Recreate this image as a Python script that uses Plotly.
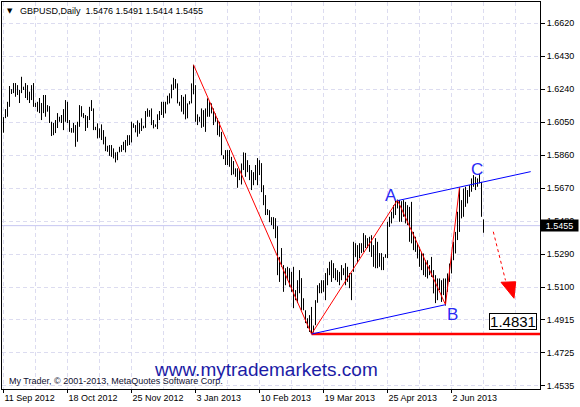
import plotly.graph_objects as go

# ---------------- data ----------------
highs = [
    1.6080, 1.6126, 1.6168, 1.6259, 1.6241, 1.6276, 1.6276, 1.6264, 1.6236, 1.6312,
    1.6255, 1.6276, 1.6264, 1.6226, 1.6264, 1.6276, 1.6162, 1.6168, 1.6190, 1.6161,
    1.6207, 1.6207, 1.6149, 1.6143, 1.6053, 1.6046, 1.6063, 1.6103, 1.6082, 1.6092,
    1.6126, 1.6178, 1.6168, 1.6063, 1.6017, 1.6046, 1.6034, 1.6053, 1.6149, 1.6143,
    1.6103, 1.6092, 1.6086, 1.6139, 1.6178, 1.6130, 1.6024, 1.6044, 1.6015, 1.6038,
    1.6005, 1.5967, 1.5915, 1.5919, 1.5919, 1.5900, 1.5877, 1.5880, 1.5909, 1.5919,
    1.5938, 1.5948, 1.5976, 1.5976, 1.6053, 1.6044, 1.6034, 1.6061, 1.6047, 1.6073,
    1.6030, 1.6115, 1.6130, 1.6120, 1.6130, 1.6063, 1.6038, 1.6096, 1.6115, 1.6168,
    1.6168, 1.6168, 1.6203, 1.6217, 1.6268, 1.6306, 1.6299, 1.6274, 1.6168, 1.6207,
    1.6197, 1.6211, 1.6159, 1.6172, 1.6274, 1.6381, 1.6264, 1.6096, 1.6082, 1.6130,
    1.6120, 1.6130, 1.6188, 1.6168, 1.6159, 1.6130, 1.6101, 1.6073, 1.6053, 1.5995,
    1.5861, 1.5890, 1.5890, 1.5890, 1.5851, 1.5827, 1.5785, 1.5785, 1.5775, 1.5813,
    1.5877, 1.5874, 1.5832, 1.5804, 1.5775, 1.5763, 1.5804, 1.5844, 1.5832, 1.5815,
    1.5688, 1.5631, 1.5550, 1.5544, 1.5504, 1.5504, 1.5498, 1.5452, 1.5275, 1.5326,
    1.5228, 1.5210, 1.5218, 1.5210, 1.5189, 1.5218, 1.5084, 1.5141, 1.5199, 1.5153,
    1.5037, 1.4968, 1.4922, 1.4940, 1.4987, 1.4880, 1.5026, 1.5112, 1.5124, 1.5141,
    1.5141, 1.5182, 1.5210, 1.5247, 1.5256, 1.5239, 1.5210, 1.5199, 1.5189, 1.5228,
    1.5210, 1.5239, 1.5218, 1.5182, 1.5182, 1.5362, 1.5354, 1.5343, 1.5354, 1.5354,
    1.5412, 1.5400, 1.5383, 1.5391, 1.5400, 1.5343, 1.5383, 1.5362, 1.5297, 1.5297,
    1.5275, 1.5291, 1.5477, 1.5506, 1.5535, 1.5573, 1.5602, 1.5605, 1.5602, 1.5596,
    1.5602, 1.5592, 1.5573, 1.5563, 1.5592, 1.5419, 1.5391, 1.5353, 1.5333, 1.5304,
    1.5295, 1.5256, 1.5256, 1.5228, 1.5275, 1.5199, 1.5170, 1.5151, 1.5151, 1.5141,
    1.5151, 1.5151, 1.5180, 1.5237, 1.5285, 1.5362, 1.5419, 1.5535, 1.5671, 1.5602,
    1.5669, 1.5679, 1.5660, 1.5688, 1.5727, 1.5746, 1.5736, 1.5727, 1.5752, 1.5707,
    1.5491,
]
lows = [
    1.5990, 1.6074, 1.6082, 1.6139, 1.6213, 1.6218, 1.6197, 1.6207, 1.6161, 1.6218,
    1.6236, 1.6190, 1.6178, 1.6161, 1.6178, 1.6139, 1.6138, 1.6111, 1.6103, 1.6063,
    1.6103, 1.6082, 1.6111, 1.6046, 1.5971, 1.5976, 1.5988, 1.6017, 1.6053, 1.6046,
    1.6005, 1.6053, 1.6046, 1.5995, 1.5990, 1.5990, 1.5909, 1.5938, 1.6024, 1.6082,
    1.6074, 1.6000, 1.6018, 1.6063, 1.6115, 1.6005, 1.6005, 1.5957, 1.5961, 1.5948,
    1.5923, 1.5884, 1.5880, 1.5857, 1.5851, 1.5842, 1.5819, 1.5832, 1.5877, 1.5880,
    1.5890, 1.5877, 1.5915, 1.5919, 1.5934, 1.6018, 1.5992, 1.5967, 1.5984, 1.6000,
    1.6015, 1.6018, 1.6082, 1.6082, 1.6034, 1.6015, 1.6024, 1.6011, 1.6063, 1.6092,
    1.6076, 1.6101, 1.6153, 1.6159, 1.6188, 1.6236, 1.6245, 1.6159, 1.6145, 1.6111,
    1.6096, 1.6067, 1.6073, 1.6153, 1.6159, 1.6211, 1.6053, 1.6034, 1.6053, 1.6018,
    1.6024, 1.5995, 1.6082, 1.6082, 1.6101, 1.6034, 1.6053, 1.5976, 1.5967, 1.5861,
    1.5838, 1.5804, 1.5804, 1.5794, 1.5746, 1.5750, 1.5736, 1.5673, 1.5717, 1.5692,
    1.5775, 1.5736, 1.5763, 1.5717, 1.5660, 1.5688, 1.5717, 1.5688, 1.5746, 1.5648,
    1.5573, 1.5516, 1.5516, 1.5475, 1.5458, 1.5435, 1.5383, 1.5170, 1.5131, 1.5218,
    1.5074, 1.5112, 1.5141, 1.5103, 1.5074, 1.4980, 1.5026, 1.5009, 1.5066, 1.4968,
    1.4968, 1.4894, 1.4865, 1.4843, 1.4831, 1.4840, 1.4882, 1.5011, 1.5066, 1.5066,
    1.5074, 1.5026, 1.5112, 1.5170, 1.5131, 1.5153, 1.5141, 1.5131, 1.5112, 1.5141,
    1.5170, 1.5112, 1.5131, 1.5095, 1.5026, 1.5189, 1.5275, 1.5239, 1.5268, 1.5297,
    1.5304, 1.5326, 1.5326, 1.5304, 1.5275, 1.5218, 1.5210, 1.5210, 1.5218, 1.5199,
    1.5199, 1.5270, 1.5268, 1.5448, 1.5468, 1.5497, 1.5516, 1.5554, 1.5477, 1.5477,
    1.5506, 1.5468, 1.5458, 1.5362, 1.5353, 1.5314, 1.5304, 1.5266, 1.5218, 1.5199,
    1.5170, 1.5160, 1.5151, 1.5170, 1.5160, 1.5065, 1.5009, 1.5026, 1.5084, 1.5016,
    1.5055, 1.4995, 1.5074, 1.5131, 1.5180, 1.5256, 1.5295, 1.5372, 1.5419, 1.5497,
    1.5506, 1.5563, 1.5583, 1.5621, 1.5650, 1.5679, 1.5660, 1.5679, 1.5698, 1.5506,
    1.5414,
]

date_labels = ["11 Sep 2012", "18 Oct 2012", "25 Nov 2012", "3 Jan 2013",
               "10 Feb 2013", "19 Mar 2013", "25 Apr 2013", "2 Jun 2013"]
date_label_bars = [0, 32, 64, 96, 128, 160, 192, 224]
grid_bars = [16, 48, 80, 112, 144, 176, 208, 240, 256]
price_ticks = [1.6620, 1.6430, 1.6240, 1.6050, 1.5860, 1.5670, 1.5480,
               1.5290, 1.5100, 1.4915, 1.4725, 1.4535]
price_tick_text = ["1.6620", "1.6430", "1.6240", "1.6050", "1.5860", "1.5670", "1.5480",
                   "1.5290", "1.5100", "1.4915", "1.4725", "1.4535"]

title_text = "GBPUSD,Daily  1.5476 1.5491 1.5414 1.5455"
last_price = 1.5455
target_price = 1.4831

zigzag_bars = [95, 154, 197, 221, 228]
zigzag_prices = [1.6381, 1.4831, 1.5602, 1.5000, 1.5676]
upper_bars = [197, 263.6]
upper_prices = [1.5599, 1.5766]
lower_bars = [154, 221]
lower_prices = [1.4831, 1.5000]
forecast_bars = [244.9, 251.0]
forecast_prices = [1.5420, 1.5140]
arrowhead_bars = [248.75, 256.1, 255.25, 248.75]
arrowhead_prices = [1.5129, 1.5132, 1.5037, 1.5129]
wave_labels = ["A", "B", "C"]
wave_label_bars = [193.5, 224.4, 236.9]
wave_label_prices = [1.5629, 1.4941, 1.5779]
target_label_bar = 254.75
target_label_price = 1.4906

# ---------------- figure ----------------
fig = go.Figure()

n = len(highs)
bx, by = [], []
for k in range(n):
    bx += [k, k, None]
    by += [lows[k], highs[k], None]

# current price line
fig.add_trace(go.Scatter(x=[-1, 270], y=[last_price, last_price], mode="lines",
                         line=dict(color="#c6c6f2", width=1), hoverinfo="skip"))
# target horizontal line
fig.add_trace(go.Scatter(x=[zigzag_bars[1], 270], y=[target_price, target_price], mode="lines",
                         line=dict(color="#ff0000", width=2.5), hoverinfo="skip"))
# bars
fig.add_trace(go.Scatter(x=bx, y=by, mode="lines", line=dict(color="#000000", width=1),
                         hoverinfo="skip"))
# zigzag
fig.add_trace(go.Scatter(x=zigzag_bars, y=zigzag_prices, mode="lines",
                         line=dict(color="#ff0000", width=1), hoverinfo="skip"))
# channel lines
fig.add_trace(go.Scatter(x=upper_bars, y=upper_prices, mode="lines",
                         line=dict(color="#0000ff", width=1), hoverinfo="skip"))
fig.add_trace(go.Scatter(x=lower_bars, y=lower_prices, mode="lines",
                         line=dict(color="#0000ff", width=1), hoverinfo="skip"))
# forecast arrow
fig.add_trace(go.Scatter(x=forecast_bars, y=forecast_prices, mode="lines",
                         line=dict(color="#ff0000", width=1, dash="3px,3px"), hoverinfo="skip"))
fig.add_trace(go.Scatter(x=arrowhead_bars, y=arrowhead_prices, mode="lines", fill="toself",
                         fillcolor="#ff0000", line=dict(color="#ff0000", width=1),
                         hoverinfo="skip"))

grid_col = "#dcdcf0"
fig.update_xaxes(
    range=[-0.75, 268.25], tickmode="array", tickvals=date_label_bars, ticktext=date_labels,
    ticks="outside", ticklen=3, tickcolor="#000000", ticklabelposition="outside right",
    showgrid=True, gridcolor=grid_col, griddash="4px,3px", gridwidth=1,
    minor=dict(tickmode="array", tickvals=grid_bars, showgrid=True, gridcolor=grid_col,
               griddash="4px,3px", ticks=""),
    showline=True, linecolor="#000000", linewidth=1, mirror=True, zeroline=False,
    tickfont=dict(family="Liberation Sans, Arial", size=9, color="#000000"),
    fixedrange=True,
)
fig.update_yaxes(
    range=[1.45146, 1.67426], side="right", tickmode="array", tickvals=price_ticks,
    ticktext=price_tick_text, ticks="outside", ticklen=4, tickcolor="#000000",
    showgrid=True, gridcolor=grid_col, griddash="4px,3px", gridwidth=1,
    showline=True, linecolor="#000000", linewidth=1, mirror=True, zeroline=False,
    tickfont=dict(family="Liberation Sans, Arial", size=9, color="#000000"),
    fixedrange=True,
)

ann = []
ann.append(dict(xref="paper", yref="paper", x=0.0145, y=0.9773, text="▼", showarrow=False,
                xanchor="center", yanchor="middle",
                font=dict(family="DejaVu Sans", size=7, color="#000000")))
ann.append(dict(xref="paper", yref="paper", x=0.0303, y=0.9767, text=title_text, showarrow=False,
                xanchor="left", yanchor="middle",
                font=dict(family="Liberation Sans, Arial", size=9, color="#000000")))
ann.append(dict(xref="paper", yref="paper", x=0.0098, y=0.0207,
                text="My Trader, © 2001-2013, MetaQuotes Software Corp.", showarrow=False,
                xanchor="left", yanchor="middle",
                font=dict(family="Liberation Sans, Arial", size=9, color="#101030")))
ann.append(dict(xref="paper", yref="paper", x=0.2794, y=0.0504, text="www.mytrademarkets.com",
                showarrow=False, xanchor="left", yanchor="middle",
                font=dict(family="Liberation Sans, Arial", size=19, color="#1c1ca6")))
for t, xb, yp in zip(wave_labels, wave_label_bars, wave_label_prices):
    ann.append(dict(x=xb, y=yp, text=t, showarrow=False, xanchor="center", yanchor="middle",
                    font=dict(family="Liberation Sans, Arial", size=17, color="#2a2af5")))
ann.append(dict(x=target_label_bar, y=target_label_price, text=f"{target_price:.4f}",
                showarrow=False, xanchor="center", yanchor="middle", bgcolor="#ffffff",
                bordercolor="#000000", borderwidth=1, borderpad=0, width=46, height=15,
                font=dict(family="Liberation Sans, Arial", size=15, color="#000000")))
ann.append(dict(xref="paper", yref="y", x=1.0, y=last_price, text=f"{last_price:.4f}",
                showarrow=False, xanchor="left", yanchor="middle", bgcolor="#000000",
                borderpad=0, width=37, height=11,
                font=dict(family="Liberation Sans, Arial", size=9, color="#ffffff")))

fig.update_layout(
    width=580, height=407, autosize=False,
    margin=dict(l=2, r=40, t=2, b=18, pad=0),
    paper_bgcolor="#ffffff", plot_bgcolor="#ffffff",
    showlegend=False, annotations=ann,
)

fig.write_html(
    "out.html",
    config={"displayModeBar": False},
    post_script="document.body.style.margin='0';document.body.style.padding='0';"
                "document.body.style.overflow='hidden';",
)
